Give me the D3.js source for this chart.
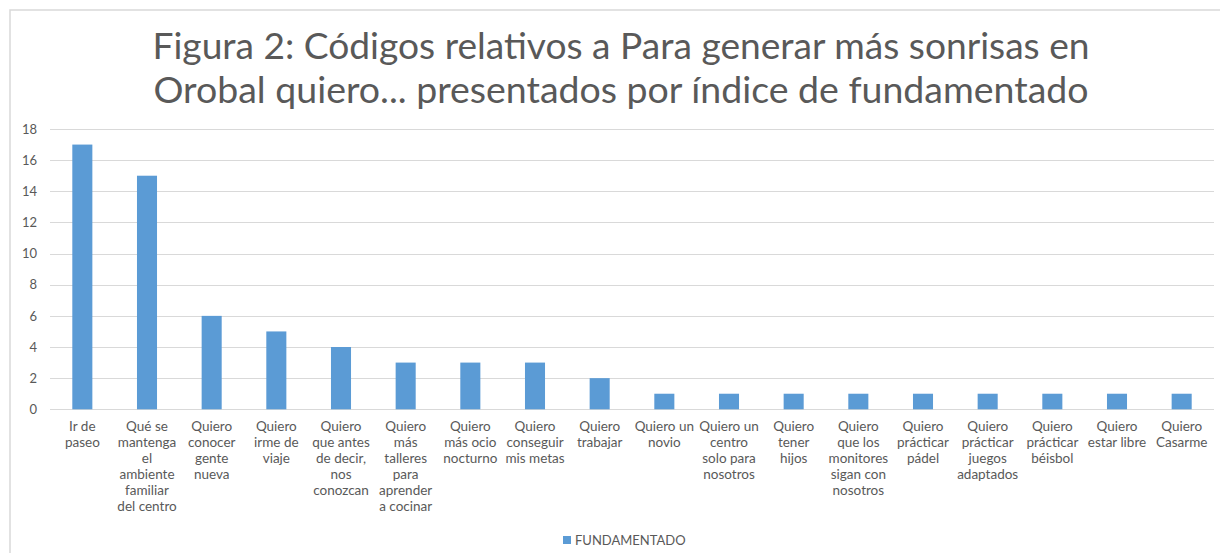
<!DOCTYPE html>
<html>
<head>
<meta charset="utf-8">
<script src="https://cdn.jsdelivr.net/npm/d3@7"></script>
<style>
  html, body { margin: 0; padding: 0; background: #fff; }
  svg { display: block; }
</style>
</head>
<body>
<svg id="chart" width="1220" height="553"></svg>
<script>
const titleLines = [
  "Figura 2: Códigos relativos a Para generar más sonrisas en",
  "Orobal quiero... presentados por índice de fundamentado"
];
const categories = [
  "Ir de\npaseo",
  "Qué se\nmantenga\nel\nambiente\nfamiliar\ndel centro",
  "Quiero\nconocer\ngente\nnueva",
  "Quiero\nirme de\nviaje",
  "Quiero\nque antes\nde decir,\nnos\nconozcan",
  "Quiero\nmás\ntalleres\npara\naprender\na cocinar",
  "Quiero\nmás ocio\nnocturno",
  "Quiero\nconseguir\nmis metas",
  "Quiero\ntrabajar",
  "Quiero un\nnovio",
  "Quiero un\ncentro\nsolo para\nnosotros",
  "Quiero\ntener\nhijos",
  "Quiero\nque los\nmonitores\nsigan con\nnosotros",
  "Quiero\nprácticar\npádel",
  "Quiero\nprácticar\njuegos\nadaptados",
  "Quiero\nprácticar\nbéisbol",
  "Quiero\nestar libre",
  "Quiero\nCasarme"
];
const values = [17, 15, 6, 5, 4, 3, 3, 3, 2, 1, 1, 1, 1, 1, 1, 1, 1, 1];
const yTicks = [0, 2, 4, 6, 8, 10, 12, 14, 16, 18];
const seriesName = "FUNDAMENTADO";

const svg = d3.select("#chart");
const textColor = "#595959";
const barColor = "#5B9BD5";
const gridColor = "#d9d9d9";
const font = "Lato, 'Open Sans', sans-serif";

// chart border
svg.append("rect")
  .attr("x", 10).attr("y", 10)
  .attr("width", 1230).attr("height", 560)
  .attr("fill", "none").attr("stroke", gridColor).attr("stroke-width", 1.5);

const plot = { left: 50, right: 1214, top: 129, bottom: 409.3 };

const x = d3.scaleBand()
  .domain(d3.range(categories.length))
  .range([plot.left, plot.right])
  .paddingInner(0.69).paddingOuter(0.345);

const y = d3.scaleLinear().domain([0, 18]).range([plot.bottom, plot.top]);

// title
svg.append("g").selectAll("text").data(titleLines).join("text")
  .attr("x", 621)
  .attr("y", (d, i) => 59 + i * 44)
  .attr("text-anchor", "middle")
  .attr("font-family", "Lato, 'Open Sans', sans-serif")
  .attr("font-size", 36)
  .attr("fill", textColor)
  .attr("textLength", (d, i) => i === 0 ? 937 : 935)
  .attr("lengthAdjust", "spacingAndGlyphs")
  .text(d => d);

// gridlines
svg.append("g").selectAll("line").data(yTicks).join("line")
  .attr("x1", plot.left).attr("x2", plot.right)
  .attr("y1", d => Math.round(y(d)) + 0.5).attr("y2", d => Math.round(y(d)) + 0.5)
  .attr("stroke", gridColor).attr("stroke-width", 1);

// y axis labels
const yAxis = d3.axisLeft(y).tickValues(yTicks).tickSize(0).tickPadding(0);
const yg = svg.append("g").attr("transform", "translate(37,0)").call(yAxis);
yg.select(".domain").remove();
yg.selectAll("text")
  .attr("font-family", font).attr("font-size", 13).attr("fill", textColor);

// bars
svg.append("g").selectAll("rect").data(values).join("rect")
  .attr("x", (d, i) => x(i))
  .attr("width", x.bandwidth())
  .attr("y", d => y(d))
  .attr("height", d => y(0) - y(d))
  .attr("fill", barColor);

// x axis labels
const xAxis = d3.axisBottom(x).tickSize(0).tickFormat(() => "");
const xg = svg.append("g").attr("transform", `translate(0,${plot.bottom})`).call(xAxis);
xg.select(".domain").remove();
xg.selectAll(".tick").each(function(i) {
  const lines = categories[i].split("\n");
  const t = d3.select(this).append("text")
    .attr("text-anchor", "middle")
    .attr("font-family", font)
    .attr("font-size", 13.5)
    .attr("fill", textColor);
  lines.forEach((ln, k) => {
    t.append("tspan").attr("x", 0).attr("y", 22 + k * 16).text(ln);
  });
});

// legend
const lg = svg.append("g").attr("transform", "translate(563,536)");
lg.append("rect").attr("width", 8).attr("height", 8).attr("fill", barColor);
lg.append("text").attr("x", 12).attr("y", 9)
  .attr("font-family", font).attr("font-size", 13).attr("fill", textColor)
  .text(seriesName);
</script>
</body>
</html>
